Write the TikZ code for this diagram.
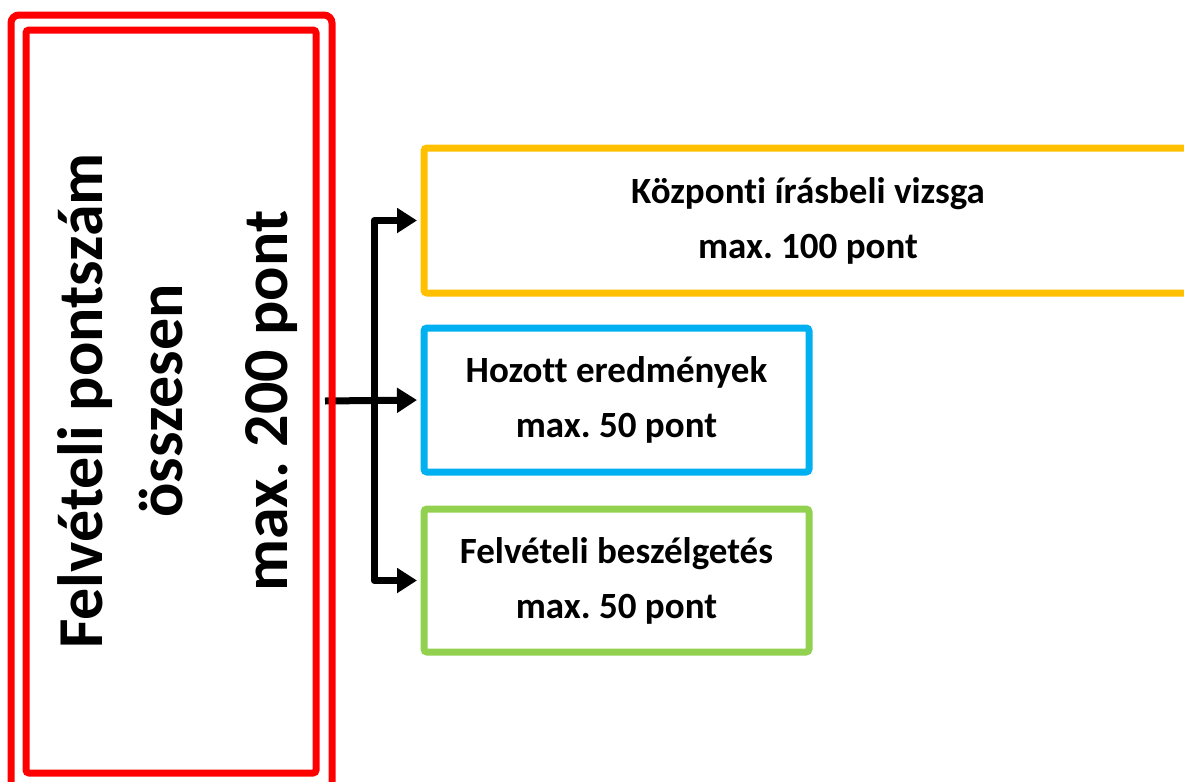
\documentclass[tikz,border=0pt]{standalone}
\usepackage{fontspec}
\setmainfont[Ligatures=NoCommon]{Carlito}
\frenchspacing
\usetikzlibrary{arrows.meta,backgrounds}
\definecolor{boxred}{HTML}{FF0000}
\definecolor{boxyellow}{HTML}{FFC000}
\definecolor{boxblue}{HTML}{00B0F0}
\definecolor{boxgreen}{HTML}{92D050}
\begin{document}
\begin{tikzpicture}[x=1pt, y=-1pt, line width=7pt,
    frame/.style={draw=boxred, rounded corners=#1, inner sep=0pt},
    part/.style={draw=#1, rounded corners=3pt, inner sep=0pt, align=center,
      font=\bfseries\fontsize{37}{55}\selectfont},
    vert/.style={rotate=90, anchor=base, inner sep=0pt,
      font=\bfseries\fontsize{64}{64}\selectfont},
    link/.style={line width=7pt, -{Triangle[length=20pt,width=24pt]}, line join=round, shorten >=3.5pt}]
  \useasboundingbox (0,0) rectangle (1184,782);
  \clip (0,0) rectangle (1184,782);
  \node[frame=8pt, minimum width=321pt, minimum height=785pt] (total) at (171.5,407.5) {};
  \node[frame=3pt, minimum width=290pt, minimum height=743pt] (inner) at (171,401.5) {};
  \node[vert] (title1) at (102,401) {Felvételi pontszám};
  \node[vert] (title2) at (182,401) {összesen};
  \node[vert] (title3) at (287,401) {max. 200 pont};
  \node[part=boxyellow, minimum width=768pt, minimum height=145pt] (central) at (808,220.5)
    {Központi írásbeli vizsga\\max. 100 pont};
  \node[part=boxblue, minimum width=385pt, minimum height=144pt] (brought) at (616.5,400)
    {Hozott eredmények\\max. 50 pont};
  \node[part=boxgreen, minimum width=385pt, minimum height=143pt] (interview) at (616.5,580.5)
    {Felvételi beszélgetés\\max. 50 pont};
  \begin{scope}[on background layer]
    \coordinate (start) at (325,401);
    \coordinate (split) at (374,401);
    \draw[link] (start) -- (brought.west);
    \draw[link] (split) |- (central.west);
    \draw[link] (split) |- (interview.west);
  \end{scope}
\end{tikzpicture}
\end{document}
